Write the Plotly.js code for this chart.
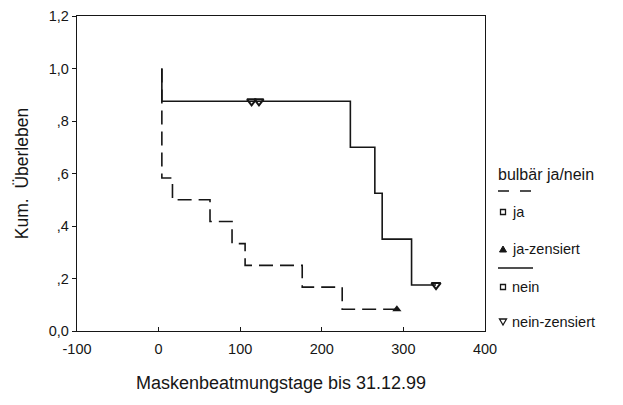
<!DOCTYPE html>
<html><head><meta charset="utf-8">
<script src="https://cdn.plot.ly/plotly-3.0.1.min.js"></script>
<style>html,body{margin:0;padding:0;background:#fff}#chart{width:623px;height:405px}</style>
</head><body><div id="chart"></div>
<script>
// Kaplan-Meier step data (days, cumulative survival)
const jaTimes = [4, 4, 17, 63, 90, 106, 176, 225, 292];
const jaSurv = [1.0, 0.583, 0.5, 0.417, 0.333, 0.25, 0.167, 0.083, 0.083];
const jaCensTimes = [292];
const jaCensSurv = [0.083];
const neinTimes = [4, 4, 235, 265, 274, 310, 340];
const neinSurv = [1.0, 0.875, 0.70, 0.525, 0.35, 0.175, 0.175];
const neinCensTimes = [114, 123, 340];
const neinCensSurv = [0.875, 0.875, 0.175];
const yTickVals = [0, 0.2, 0.4, 0.6, 0.8, 1.0, 1.2];
const yTickText = ['0,0', ',2', ',4', ',6', ',8', '1,0', '1,2'];
const xTickVals = [-100, 0, 100, 200, 300, 400];
const xTickText = ['-100', '0', '100', '200', '300', '400'];
const legendTitle = 'bulbär ja/nein';
const legendLabels = ['ja', 'ja-zensiert', 'nein', 'nein-zensiert'];

const INK = '#161616';
const FONT = 'Arial, "Liberation Sans", sans-serif';
const W = 623, H = 405;
const L = 77, R = 485, T = 16, B = 331;
const px = x => (x - L) / (R - L);
const py = y => (B - y) / (B - T);

const traces = [
  {x: jaTimes, y: jaSurv, mode: 'lines', line: {shape: 'hv', color: INK, width: 1.6, dash: '14px,7px'}, name: legendLabels[0], hoverinfo: 'skip'},
  {x: jaCensTimes, y: jaCensSurv, mode: 'markers', marker: {symbol: 'triangle-up', size: 8, color: INK}, name: legendLabels[1], hoverinfo: 'skip'},
  {x: neinTimes, y: neinSurv, mode: 'lines', line: {shape: 'hv', color: INK, width: 1.6}, name: legendLabels[2], hoverinfo: 'skip'},
  {x: neinCensTimes, y: neinCensSurv, mode: 'markers', marker: {symbol: 'triangle-down-open', size: 8, color: INK, line: {width: 2, color: INK}}, name: legendLabels[3], hoverinfo: 'skip'}
];

// manual legend (SPSS style)
const legRows = [212, 249, 287, 322];
const shapes = [
  {type: 'line', xref: 'paper', yref: 'paper', x0: px(498), x1: px(533), y0: py(191), y1: py(191), line: {color: INK, width: 1.4, dash: '11px,11px'}},
  {type: 'rect', xref: 'paper', yref: 'paper', x0: px(500.5), x1: px(505.5), y0: py(legRows[0] - 2.5), y1: py(legRows[0] + 2.5), line: {color: INK, width: 1.3}},
  {type: 'path', xref: 'paper', yref: 'paper', path: `M ${px(499.5)} ${py(legRows[1] + 3)} L ${px(506.5)} ${py(legRows[1] + 3)} L ${px(503)} ${py(legRows[1] - 3)} Z`, fillcolor: INK, line: {color: INK, width: 1}},
  {type: 'line', xref: 'paper', yref: 'paper', x0: px(498), x1: px(533), y0: py(268), y1: py(268), line: {color: INK, width: 1.4}},
  {type: 'rect', xref: 'paper', yref: 'paper', x0: px(500.5), x1: px(505.5), y0: py(legRows[2] - 2.5), y1: py(legRows[2] + 2.5), line: {color: INK, width: 1.3}},
  {type: 'path', xref: 'paper', yref: 'paper', path: `M ${px(499.5)} ${py(legRows[3] - 3)} L ${px(506.5)} ${py(legRows[3] - 3)} L ${px(503)} ${py(legRows[3] + 3)} Z`, line: {color: INK, width: 1.3}}
];
const annotations = [
  {xref: 'paper', yref: 'paper', x: px(496), y: py(174), xanchor: 'left', yanchor: 'middle', text: legendTitle, showarrow: false, font: {family: FONT, size: 16, color: INK}}
].concat(legendLabels.map((t, i) => ({
  xref: 'paper', yref: 'paper', x: px(510), y: py(legRows[i]), xanchor: 'left', yanchor: 'middle', text: t, showarrow: false, font: {family: FONT, size: 14.5, color: INK}
})));

const layout = {
  width: W, height: H,
  margin: {l: L, r: W - R, t: T, b: H - B, pad: 0},
  paper_bgcolor: '#fff', plot_bgcolor: '#fff',
  showlegend: false,
  font: {family: FONT, color: INK, size: 13},
  xaxis: {
    range: [-100, 400], tickmode: 'array', tickvals: xTickVals, ticktext: xTickText, ticks: 'inside', ticklen: 4, tickcolor: INK,
    ticklabelstandoff: 4,
    showgrid: false, zeroline: false, showline: true, linecolor: INK, linewidth: 1.3, mirror: true,
    tickfont: {family: FONT, size: 14.5, color: INK}, automargin: false,
    title: {text: 'Maskenbeatmungstage bis 31.12.99', font: {family: FONT, size: 18, color: INK}, standoff: 20}
  },
  yaxis: {
    range: [0, 1.2], tickmode: 'array', tickvals: yTickVals, ticktext: yTickText, ticks: 'outside', ticklen: 4, tickcolor: INK,
    showgrid: false, zeroline: false, showline: true, linecolor: INK, linewidth: 1.3, mirror: true,
    tickfont: {family: FONT, size: 14.5, color: INK}, automargin: false,
    title: {text: 'Kum.\u00a0 Überleben', font: {family: FONT, size: 17.5, color: INK}, standoff: 15}
  },
  shapes: shapes,
  annotations: annotations
};

Plotly.newPlot('chart', traces, layout, {displayModeBar: false, staticPlot: true});
</script>
</body></html>
